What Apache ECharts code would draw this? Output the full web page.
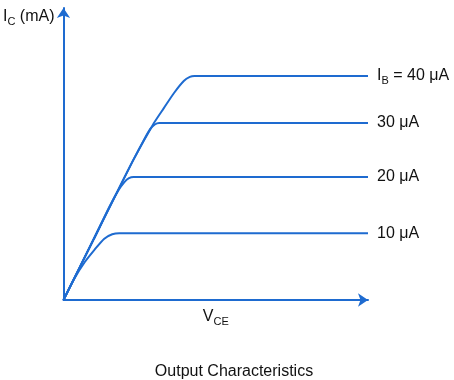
<!DOCTYPE html>
<html><head><meta charset="utf-8">
<script src="https://cdn.jsdelivr.net/npm/echarts@6/dist/echarts.min.js"></script>
<style>html,body{margin:0;padding:0;background:#fff}#c{width:454px;height:380px}</style>
</head><body><div id="c"></div>
<script>
// Base current curves (VCE, IC), arbitrary units 0-10
const ib40 = [[0,0],[1.0,2.1],[1.63,3.42],[2.29,4.79],[2.97,6.06],[3.30,6.58],[3.63,7.09],[3.95,7.50],[4.15,7.64],[4.3,7.67],[5.5,7.67],[10,7.67]];
const ib30 = [[0,0],[1.0,2.1],[1.63,3.42],[2.29,4.79],[2.65,5.5],[2.85,5.86],[3.0,6.01],[3.14,6.06],[4.5,6.06],[10,6.06]];
const ib20 = [[0,0],[1.0,2.1],[1.5,3.18],[1.8,3.75],[2.0,4.04],[2.15,4.17],[2.3,4.21],[3.5,4.21],[10,4.21]];
const ib10 = [[0,0],[0.35,0.72],[0.7,1.3],[1.01,1.71],[1.34,2.1],[1.6,2.25],[1.83,2.29],[3.0,2.29],[10,2.29]];
const curveLabels = ['40 μA', '30 μA', '20 μA', '10 μA'];
const blue = '#1e6bd0';
const txt = '#111';
const font = '"Liberation Sans", Arial, sans-serif';
const rich = {
  m: {fontSize: 16, fontFamily: font, color: txt, lineHeight: 20, verticalAlign: 'middle'},
  s: {fontSize: 11, fontFamily: font, color: txt, lineHeight: 12, verticalAlign: 'bottom'}
};
function mk(data, label, prefix) {
  return {
    type: 'line', data: data, showSymbol: false, smooth: 0.25,
    lineStyle: {color: blue, width: 2}, silent: true,
    endLabel: {show: true, distance: 9, formatter: prefix ? '{m|I}{s|B}{m| = ' + label + '}' : '{m|' + label + '}', rich: rich}
  };
}
const chart = echarts.init(document.getElementById('c'));
chart.setOption({
  animation: false,
  title: {text: 'Output Characteristics', left: 229, top: 359, textAlign: 'center',
    textStyle: {fontSize: 16, fontWeight: 'normal', fontFamily: font, color: txt}},
  grid: {left: 62, right: 86, top: 8, bottom: 80},
  xAxis: {type: 'value', min: 0, max: 10, splitLine: {show: false}, axisTick: {show: false}, axisLabel: {show: false},
    axisLine: {show: true, symbol: ['none', 'arrow'], symbolSize: [10, 10], lineStyle: {color: blue, width: 2}},
    name: '{m|V}{s|CE}', nameLocation: 'middle', nameGap: 7, nameTextStyle: {rich: rich}},
  yAxis: {type: 'value', min: 0, max: 10, splitLine: {show: false}, axisTick: {show: false}, axisLabel: {show: false},
    axisLine: {show: true, symbol: ['none', 'arrow'], symbolSize: [10, 10], lineStyle: {color: blue, width: 2}},
    name: '{m|I}{s|C}{m| (mA)}', nameLocation: 'end', nameGap: -9,
    nameTextStyle: {rich: rich, align: 'right', verticalAlign: 'middle', padding: [0, 9, 0, 0]}},
  series: [mk(ib40, curveLabels[0], true), mk(ib30, curveLabels[1]), mk(ib20, curveLabels[2]), mk(ib10, curveLabels[3])]
});
</script></body></html>
